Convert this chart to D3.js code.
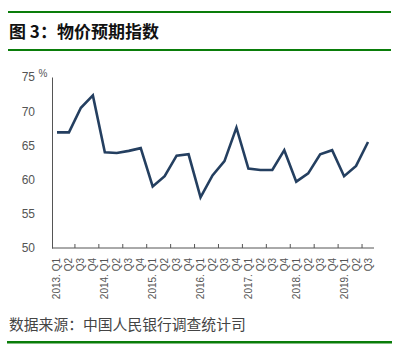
<!DOCTYPE html>
<html>
<head>
<meta charset="utf-8">
<script src="https://cdn.jsdelivr.net/npm/d3@7"></script>
<style>
  body { margin: 0; background: #fff; }
  svg { display: block; }
</style>
</head>
<body>
<svg id="chart" width="404" height="353"></svg>
<script>
// quarters 2013Q1 - 2019Q3
let quarters = ['2013. Q1','Q2','Q3','Q4','2014. Q1','Q2','Q3','Q4','2015. Q1','Q2','Q3','Q4',
  '2016. Q1','Q2','Q3','Q4','2017. Q1','Q2','Q3','Q4','2018. Q1','Q2','Q3','Q4','2019. Q1','Q2','Q3']
let priceIndex = [66.9,66.9,70.5,72.3,64.0,63.9,64.2,64.6,59.0,60.5,63.5,63.7,
  57.4,60.6,62.7,67.6,61.6,61.4,61.4,64.3,59.7,60.9,63.7,64.3,60.5,62.0,65.5]
let yTicks = [50,55,60,65,70,75]

let svg = d3.select('#chart')
let green = '#0a7d0a'

// frame lines
svg.append('rect').attr('x', 8).attr('y', 11).attr('width', 383).attr('height', 2).attr('fill', green)
svg.append('rect').attr('x', 8).attr('y', 49).attr('width', 383).attr('height', 2).attr('fill', green)
svg.append('rect').attr('x', 7).attr('y', 341).attr('width', 385).attr('height', 2.5).attr('fill', green)

svg.append('text')
  .attr('x', 9).attr('y', 38)
  .attr('font-family', 'Noto Sans CJK SC')
  .attr('font-weight', 'bold')
  .attr('font-size', 17)
  .attr('fill', '#111')
  .text('图 3：物价预期指数')

svg.append('text')
  .attr('x', 9).attr('y', 330)
  .attr('font-family', 'Noto Sans CJK SC')
  .attr('font-size', 14.8)
  .attr('fill', '#444')
  .text('数据来源：中国人民银行调查统计司')

let x = d3.scaleBand().domain(d3.range(quarters.length)).range([51, 374])
let y = d3.scaleLinear().domain([50, 75]).range([248, 77])

// y axis
let yAxis = svg.append('g').attr('transform', 'translate(52,0)')
  .call(d3.axisLeft(y).tickValues(yTicks).tickSize(0).tickPadding(17))
yAxis.select('.domain').attr('stroke', '#555').attr('stroke-width', 1)
yAxis.selectAll('text').attr('font-family', 'Liberation Sans').attr('font-size', 12).attr('fill', '#555')

svg.append('text')
  .attr('x', 43).attr('y', 77)
  .attr('text-anchor', 'middle')
  .attr('font-family', 'Liberation Sans')
  .attr('font-size', 10)
  .attr('fill', '#555')
  .text('%')

// x axis: ticks every second band boundary
let xAxis = svg.append('g').attr('class', 'axis x').attr('transform', 'translate(0,248)')
xAxis.append('line').attr('x1', 52).attr('x2', 374).attr('stroke', '#555')
let tickIdx = d3.range(2, quarters.length + 1, 2)
xAxis.selectAll('.tk').data(tickIdx).enter().append('line')
  .attr('x1', d => x.range()[0] + d * x.step())
  .attr('x2', d => x.range()[0] + d * x.step())
  .attr('y1', -4).attr('y2', 0)
  .attr('stroke', '#555')

xAxis.selectAll('.lb').data(quarters).enter().append('text')
  .attr('transform', (d, i) => 'translate(' + (x(i) + x.bandwidth() / 2 + 3.5) + ',10) rotate(-90)')
  .attr('text-anchor', 'end')
  .attr('font-family', 'Liberation Sans')
  .attr('font-size', 10)
  .attr('fill', '#555')
  .text(d => d)

// line
let line = d3.line()
  .x((d, i) => x(i) + x.bandwidth() / 2)
  .y(d => y(d))

svg.append('path')
  .datum(priceIndex)
  .attr('d', line)
  .attr('fill', 'none')
  .attr('stroke', '#243f60')
  .attr('stroke-width', 2.6)
  .attr('stroke-linejoin', 'miter')
</script>
</body>
</html>
